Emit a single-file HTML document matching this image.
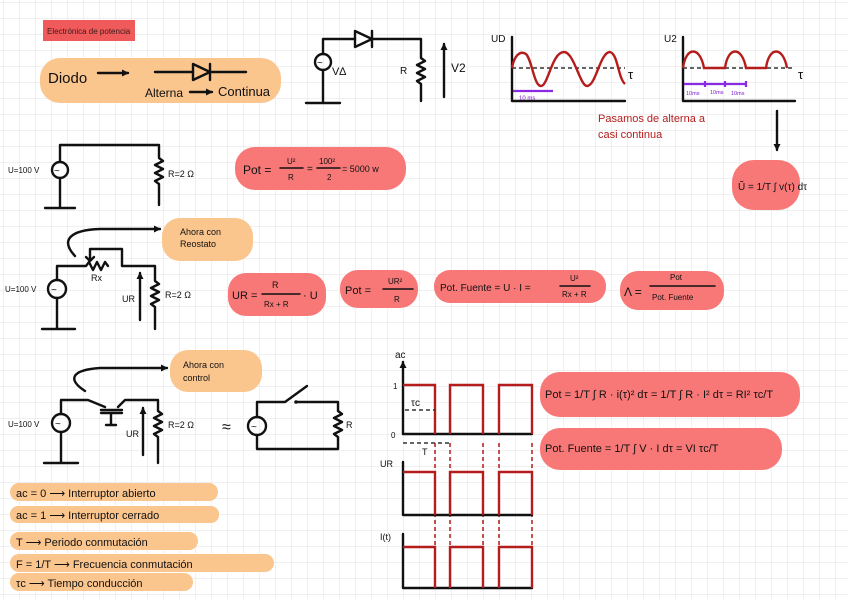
<!DOCTYPE html>
<html><head><meta charset="utf-8"><style>
html,body{margin:0;padding:0;background:#fff}
svg{display:block}
text{font-family:"Liberation Sans",sans-serif;fill:#111}
.c{stroke:#111;stroke-width:2.4;fill:none;stroke-linecap:round;stroke-linejoin:round}
.r{stroke:#b51c1c;stroke-width:2.4;fill:none}
.rd{stroke:#b51c1c;stroke-width:1.5;fill:none;stroke-dasharray:4 3}
.kd{stroke:#333;stroke-width:1.5;fill:none;stroke-dasharray:4 3}
.p{stroke:#8a2be2;stroke-width:2.2;fill:none}
.or{fill:#fbc58e}.rr{fill:#f87878}
</style></head><body>
<svg width="848" height="599" viewBox="0 0 848 599" xmlns="http://www.w3.org/2000/svg">
<defs>
<pattern id="g" x="4" y="3" width="16" height="16" patternUnits="userSpaceOnUse">
<path d="M16 0V16M0 16H16" stroke="#e2e2e2" stroke-width="1" fill="none"/>
</pattern>
<marker id="a" markerUnits="userSpaceOnUse" markerWidth="8" markerHeight="8" refX="6" refY="4" orient="auto"><path d="M0,0.5L7,4L0,7.5z" fill="#111"/></marker>
</defs>
<rect width="848" height="599" fill="url(#g)"/>

<!-- highlights -->
<rect x="43" y="20" width="92" height="21" fill="#f05a5a"/>
<text x="47" y="34" font-size="8" style="fill:#3a1a1a">Electrónica de potencia</text>
<rect class="or" x="40" y="58" width="241" height="45" rx="20"/>
<rect class="rr" x="235" y="147" width="171" height="43" rx="20"/>
<rect class="rr" x="732" y="160" width="68" height="50" rx="22"/>
<rect class="or" x="162" y="218" width="91" height="43" rx="18"/>
<rect class="rr" x="228" y="273" width="98" height="43" rx="18"/>
<rect class="rr" x="340" y="270" width="78" height="38" rx="18"/>
<rect class="rr" x="434" y="270" width="172" height="33" rx="16"/>
<rect class="rr" x="620" y="271" width="104" height="39" rx="18"/>
<rect class="or" x="170" y="350" width="92" height="42" rx="18"/>
<rect class="rr" x="540" y="372" width="260" height="45" rx="20"/>
<rect class="rr" x="540" y="428" width="242" height="42" rx="20"/>
<rect class="or" x="10" y="483" width="208" height="18" rx="9"/>
<rect class="or" x="10" y="506" width="209" height="17" rx="8"/>
<rect class="or" x="10" y="532" width="188" height="18" rx="9"/>
<rect class="or" x="10" y="554" width="264" height="18" rx="9"/>
<rect class="or" x="10" y="573" width="183" height="18" rx="9"/>

<!-- Diodo row -->
<text x="48" y="83" font-size="15">Diodo</text>
<line class="c" x1="98" y1="73" x2="128" y2="73" marker-end="url(#a)"/>
<line class="c" x1="155" y1="72" x2="193" y2="72"/>
<path class="c" d="M193,64L210,72L193,80Z"/>
<line class="c" x1="210" y1="64" x2="210" y2="80"/>
<line class="c" x1="210" y1="72" x2="246" y2="72"/>
<text x="145" y="97" font-size="12">Alterna</text>
<line class="c" x1="190" y1="92" x2="212" y2="92" marker-end="url(#a)"/>
<text x="218" y="96" font-size="13">Continua</text>

<!-- diode circuit -->
<circle class="c" cx="323" cy="62" r="8"/><text x="317" y="66" font-size="10">~</text>
<path class="c" d="M323,54V39H355"/>
<path class="c" d="M355,31L372,39L355,47Z"/><line class="c" x1="372" y1="31" x2="372" y2="47"/>
<path class="c" d="M372,39H421V58l4,3-8,4 8,4-8,4 8,4-8,4 4,3V101"/>
<path class="c" d="M323,70V103M306,103H340"/>
<text x="332" y="75" font-size="11">V∆</text>
<text x="400" y="74" font-size="10">R</text>
<line class="c" x1="444" y1="97" x2="444" y2="44" marker-end="url(#a)"/>
<text x="451" y="72" font-size="12">V2</text>

<!-- graph 1 -->
<path class="c" d="M512,37V101H625"/>
<text x="491" y="42" font-size="10">UD</text>
<line class="kd" x1="512" y1="68" x2="625" y2="68"/>
<path class="r" d="M512,68C514,56 520,50 526,54C532,60 534,86 541,86C548,86 552,52 564,52C574,52 580,86 587,86C596,86 600,52 610,52C618,54 618,78 625,84"/>
<text x="628" y="79" font-size="13">τ</text>
<line class="p" x1="513" y1="91" x2="553" y2="91"/>
<text x="519" y="100" font-size="6" style="fill:#7a1ad0">10 ms</text>

<!-- graph 2 -->
<path class="c" d="M683,37V101H795"/>
<text x="664" y="42" font-size="10">U2</text>
<line class="kd" x1="683" y1="68" x2="795" y2="68"/>
<path class="r" d="M683,68C686,46 700,46 704,68H725C728,46 742,46 746,68H766C769,46 783,46 787,68"/>
<text x="798" y="79" font-size="13">τ</text>
<path class="p" d="M684,84H746M705,81V87M725,81V87M746,81V87"/>
<text x="686" y="95" font-size="5.5" style="fill:#7a1ad0">10ms</text>
<text x="710" y="94" font-size="5.5" style="fill:#7a1ad0">10ms</text>
<text x="731" y="95" font-size="5.5" style="fill:#7a1ad0">10ms</text>
<text x="598" y="122" font-size="11" style="fill:#b51c1c">Pasamos de alterna a</text>
<text x="598" y="138" font-size="11" style="fill:#b51c1c">casi continua</text>
<line class="c" x1="777" y1="111" x2="777" y2="150" marker-end="url(#a)"/>
<text x="738" y="190" font-size="10">Ũ = 1/T ∫ v(τ) dτ</text>

<!-- circuit 2 -->
<circle class="c" cx="60" cy="170" r="8"/><text x="54" y="174" font-size="10">~</text>
<path class="c" d="M60,162V145H159V158l4,3-8,4 8,4-8,4 8,4-8,4 4,3V205"/>
<path class="c" d="M60,178V208M45,208H75"/>
<text x="8" y="173" font-size="8">U=100 V</text>
<text x="168" y="177" font-size="9">R=2 Ω</text>
<text x="243" y="174" font-size="12">Pot =</text>
<text x="287" y="164" font-size="8">U²</text><line class="c" x1="280" y1="168" x2="303" y2="168" style="stroke-width:1.5"/><text x="288" y="180" font-size="8">R</text>
<text x="307" y="172" font-size="10">=</text>
<text x="319" y="164" font-size="8">100²</text><line class="c" x1="317" y1="168" x2="340" y2="168" style="stroke-width:1.5"/><text x="327" y="180" font-size="8">2</text>
<text x="342" y="172" font-size="9">= 5000 w</text>

<!-- circuit 3 -->
<path class="c" d="M75,256C60,240 70,230 100,229H160" marker-end="url(#a)"/>
<text x="180" y="235" font-size="9">Ahora con</text>
<text x="180" y="247" font-size="9">Reostato</text>
<circle class="c" cx="57" cy="289" r="9"/><text x="51" y="293" font-size="10">~</text>
<path class="c" d="M57,280V266H86l3,-4 4,8 4,-8 4,8 4,-8 3,4"/>
<path class="c" d="M90,259V249H122V266H155V281l4,3-8,4 8,4-8,4 8,4-8,4 4,3V329"/>
<path class="c" d="M86,257L90,261L94,257"/>
<path class="c" d="M57,298V329M42,329H75"/>
<line class="c" x1="140" y1="320" x2="140" y2="273" marker-end="url(#a)"/>
<text x="122" y="302" font-size="9">UR</text>
<text x="91" y="281" font-size="9">Rx</text>
<text x="5" y="292" font-size="8">U=100 V</text>
<text x="165" y="298" font-size="9">R=2 Ω</text>
<text x="232" y="299" font-size="11">UR =</text>
<text x="272" y="288" font-size="9">R</text><line class="c" x1="262" y1="294" x2="300" y2="294" style="stroke-width:1.5"/><text x="264" y="307" font-size="8">Rx + R</text>
<text x="303" y="299" font-size="11">· U</text>
<text x="345" y="294" font-size="11">Pot =</text>
<text x="388" y="284" font-size="8">UR²</text><line class="c" x1="383" y1="289" x2="413" y2="289" style="stroke-width:1.5"/><text x="394" y="302" font-size="8">R</text>
<text x="440" y="291" font-size="10">Pot. Fuente = U · I =</text>
<text x="570" y="281" font-size="8">U²</text><line class="c" x1="560" y1="286" x2="590" y2="286" style="stroke-width:1.5"/><text x="562" y="297" font-size="8">Rx + R</text>
<text x="624" y="296" font-size="12">Λ =</text>
<text x="670" y="280" font-size="8">Pot</text><line class="c" x1="650" y1="286" x2="715" y2="286" style="stroke-width:1.5"/><text x="652" y="300" font-size="8">Pot. Fuente</text>

<!-- circuit 4 -->
<path class="c" d="M85,391C68,380 70,370 100,368H167" marker-end="url(#a)"/>
<text x="183" y="368" font-size="9">Ahora con</text>
<text x="183" y="381" font-size="9">control</text>
<circle class="c" cx="61" cy="423" r="9"/><text x="55" y="427" font-size="10">~</text>
<path class="c" d="M61,414V400H88L105,407M118,407L125,400H158V411l4,3-8,4 8,4-8,4 8,4-8,4 4,3V463"/>
<path class="c" d="M101,410H122M101,413H122M111,413V425M106,425H116"/>
<path class="c" d="M61,432V463M44,463H78"/>
<line class="c" x1="143" y1="455" x2="143" y2="408" marker-end="url(#a)"/>
<text x="126" y="437" font-size="9">UR</text>
<text x="8" y="427" font-size="8">U=100 V</text>
<text x="168" y="428" font-size="9">R=2 Ω</text>
<text x="222" y="432" font-size="16">≈</text>
<circle class="c" cx="257" cy="426" r="9"/><text x="251" y="430" font-size="10">~</text>
<path class="c" d="M257,417V402H285L307,386M296,402H338V411l4,3-8,4 8,4-8,4 8,4-8,4 4,3V449H257V435"/>
<circle cx="296" cy="402" r="1.8" fill="#111"/>
<text x="346" y="428" font-size="9">R</text>

<!-- list -->
<text x="16" y="497" font-size="11">ac = 0 ⟶ Interruptor abierto</text>
<text x="16" y="519" font-size="11">ac = 1 ⟶ Interruptor cerrado</text>
<text x="16" y="546" font-size="11">T ⟶ Periodo conmutación</text>
<text x="16" y="568" font-size="11">F = 1/T ⟶ Frecuencia conmutación</text>
<text x="16" y="587" font-size="11">τc ⟶ Tiempo conducción</text>

<!-- timing -->
<text x="395" y="358" font-size="10">ac</text>
<line class="c" x1="403" y1="434" x2="403" y2="362" marker-end="url(#a)"/>
<line class="c" x1="403" y1="434" x2="532" y2="434"/>
<text x="393" y="389" font-size="8">1</text><text x="391" y="438" font-size="8">0</text>
<path class="r" d="M403,385H435V434M450,434V385H483V434M499,434V385H532V434"/>
<line class="kd" x1="405" y1="410" x2="435" y2="410"/><text x="411" y="406" font-size="10">τc</text>
<line class="kd" x1="403" y1="443" x2="452" y2="443"/><text x="422" y="455" font-size="9">T</text>
<path class="rd" d="M435,443V590M450,443V590M483,443V590M499,443V590M532,443V590"/>
<text x="380" y="467" font-size="9">UR</text>
<path class="c" d="M403,462V515H532"/>
<path class="r" d="M403,472H435V515M450,515V472H483V515M499,515V472H532V515"/>
<text x="380" y="540" font-size="9">I(t)</text>
<path class="c" d="M403,534V588H532"/>
<path class="r" d="M403,547H435V588M450,588V547H483V588M499,588V547H532V588"/>

<text x="545" y="398" font-size="11">Pot = 1/T ∫ R · i(τ)² dτ = 1/T ∫ R · I² dτ = RI² τc/T</text>
<text x="545" y="452" font-size="11">Pot. Fuente = 1/T ∫ V · I dτ = VI τc/T</text>
</svg>
</body></html>
